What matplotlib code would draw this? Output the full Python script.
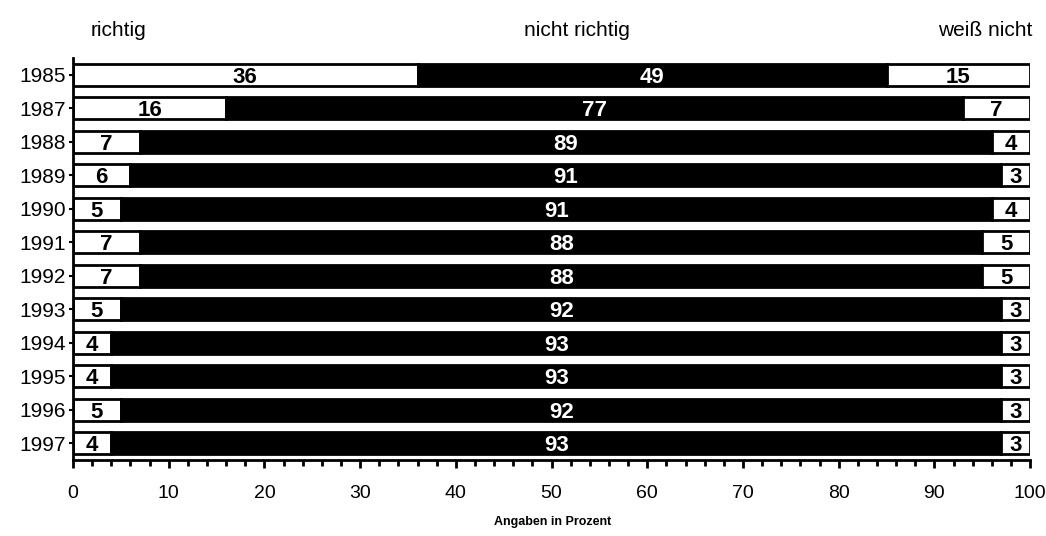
import matplotlib.pyplot as plt
import numpy as np
from matplotlib.ticker import MultipleLocator

plt.rcParams['font.family'] = ['Liberation Sans Narrow', 'Liberation Sans', 'DejaVu Sans']

years = ['1985', '1987', '1988', '1989', '1990', '1991', '1992', '1993', '1994', '1995', '1996', '1997']
richtig = [36, 16, 7, 6, 5, 7, 7, 5, 4, 4, 5, 4]
nicht_richtig = [49, 77, 89, 91, 91, 88, 88, 92, 93, 93, 92, 93]
weiss_nicht = [15, 7, 4, 3, 4, 5, 5, 3, 3, 3, 3, 3]

fig = plt.figure(figsize=(10.46, 5.36), dpi=100)
ax = fig.add_axes([0.0698, 0.142, 0.915, 0.75])

y = np.arange(len(years))
h = 0.66
r = np.array(richtig)
n = np.array(nicht_richtig)
w = np.array(weiss_nicht)

ax.barh(y, r, height=h, color='white', edgecolor='black', linewidth=2)
ax.barh(y, n, left=r, height=h, color='black', edgecolor='black', linewidth=2)
ax.barh(y, w, left=r + n, height=h, color='white', edgecolor='black', linewidth=2)

for i in range(len(years)):
    ax.text(r[i] / 2, y[i], str(r[i]), ha='center', va='center_baseline',
            fontsize=16, fontweight='bold', color='black')
    ax.text(r[i] + n[i] / 2, y[i], str(n[i]), ha='center', va='center_baseline',
            fontsize=16, fontweight='bold', color='white')
    ax.text(r[i] + n[i] + w[i] / 2, y[i], str(w[i]), ha='center', va='center_baseline',
            fontsize=16, fontweight='bold', color='black')

ax.set_xlim(0, 100)
ax.set_ylim(len(years) - 0.5, -0.5)
ax.set_yticks(y)
ax.set_yticklabels(years, fontsize=15)
ax.xaxis.set_major_locator(MultipleLocator(10))
ax.xaxis.set_minor_locator(MultipleLocator(2))
ax.tick_params(axis='x', which='major', length=6, width=2, labelsize=14, pad=12)
ax.tick_params(axis='x', which='minor', length=4, width=2)
ax.tick_params(axis='y', length=3, width=1.5, pad=2)
for s in ['top', 'right']:
    ax.spines[s].set_visible(False)
ax.spines['left'].set_linewidth(2)
ax.spines['bottom'].set_linewidth(2)

fig.text(118 / 1046, 1 - 30 / 536, 'richtig', ha='center', va='center', fontsize=15)
fig.text(577 / 1046, 1 - 30 / 536, 'nicht richtig', ha='center', va='center', fontsize=15)
fig.text(985 / 1046, 1 - 30 / 536, 'weiß nicht', ha='center', va='center', fontsize=15)
fig.text(553 / 1046, 1 - 522 / 536, 'Angaben in Prozent', ha='center', va='center',
         fontsize=9, fontweight='bold')

fig.savefig('out.png', dpi=100)
